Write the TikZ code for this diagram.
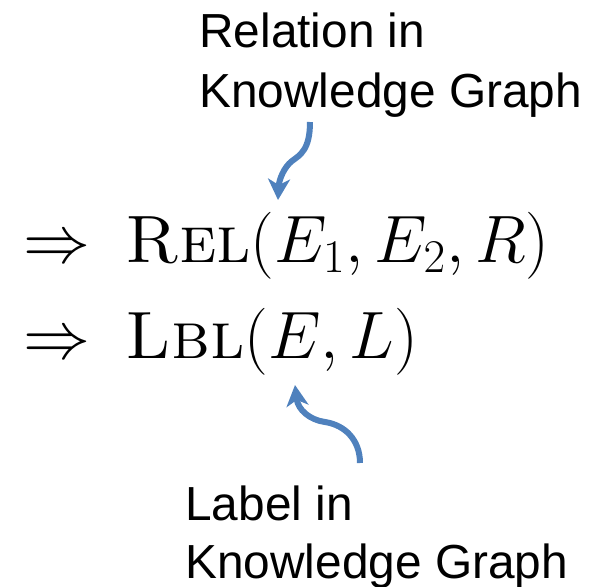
\RequirePackage{fix-cm}
\documentclass[tikz,border=0pt]{standalone}
\usepackage{fontspec}
\setsansfont{Liberation Sans}
\usepackage{amsmath}
\usetikzlibrary{arrows.meta}
\definecolor{kgblue}{RGB}{79,129,189}

\begin{document}
\begin{tikzpicture}[x=0.5pt,y=-0.5pt,
    note/.style={font=\sffamily\fontsize{23.9}{29.5}\selectfont,
      align=left,inner sep=0pt,anchor=north west},
    formula/.style={font=\fontsize{33.5}{40}\selectfont,
      inner sep=0pt,anchor=base west},
    pointer/.style={-{Stealth[length=10.5pt,width=11pt,inset=3pt]},
      line width=3pt,kgblue}]
  \useasboundingbox (0,0) rectangle (591,586);

  % the two facts
  \node[formula] (imp1) at (23,262) {$\Rightarrow$};
  \node[formula] (rel) at (125,262) {\textsc{Rel}$(E_1, E_2, R)$};
  \node[formula] (imp2) at (23,358) {$\Rightarrow$};
  \node[formula] (lbl) at (125,358) {\textsc{Lbl}$(E, L)$};

  % notes
  \node[note,font=\sffamily\fontsize{23.9}{30}\selectfont] (relnote) at (199,12) {Relation in\\Knowledge Graph};
  \node[note,font=\sffamily\fontsize{23.9}{29}\selectfont] (lblnote) at (185,485) {Label in\\Knowledge Graph};

  % pointers
  \coordinate (relfrom) at (310,122);
  \coordinate (relto) at (278,200);
  \coordinate (lblfrom) at (360,463);
  \coordinate (lblto) at (295,385);
  \draw[pointer] (relfrom) .. controls (310,150) and (300,155) .. (292,161)
    .. controls (284,167) and (279,180) .. (relto);
  \draw[pointer] (lblfrom) .. controls (360,440) and (345,425) .. (325,422)
    .. controls (310,420) and (298,410) .. (lblto);
\end{tikzpicture}
\end{document}
